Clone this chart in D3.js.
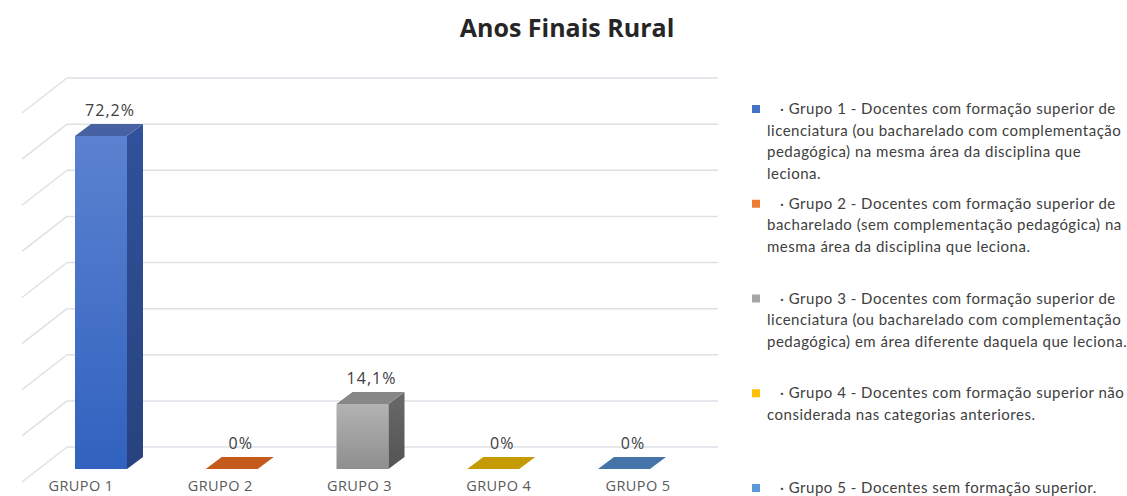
<!DOCTYPE html>
<html>
<head>
<meta charset="utf-8">
<script src="https://cdn.jsdelivr.net/npm/d3@7"></script>
<style>
body{margin:0;background:#fff;}
svg text{font-family:"Open Sans",sans-serif;}
</style>
</head>
<body>
<div id="chart"></div>
<script>
var categories=["GRUPO 1","GRUPO 2","GRUPO 3","GRUPO 4","GRUPO 5"];
var values=[0.722,0,0.141,0,0];
var valueLabels=["72,2%","0%","14,1%","0%","0%"];
var gridTicks=[0,0.1,0.2,0.3,0.4,0.5,0.6,0.7,0.8];
var legendColors=["#4472c4","#ed7d31","#a5a5a5","#ffc000","#5b9bd5"];
var legendLines=[
	["\u00b7 Grupo 1 - Docentes com formação superior de","licenciatura (ou bacharelado com complementação","pedagógica) na mesma área da disciplina que","leciona."],
	["\u00b7 Grupo 2 - Docentes com formação superior de","bacharelado (sem complementação pedagógica) na","mesma área da disciplina que leciona."],
	["\u00b7 Grupo 3 - Docentes com formação superior de","licenciatura (ou bacharelado com complementação","pedagógica) em área diferente daquela que leciona."],
	["\u00b7 Grupo 4 - Docentes com formação superior não","considerada nas categorias anteriores."],
	["\u00b7 Grupo 5 - Docentes sem formação superior."]
];
// front / front-dark / side / top
var barColors=[
	["#5b82d0","#3162bf","#2b4a8c","#4662a3"],
	["#c55a1d","#c55a1d","#a04a17","#c55a1d"],
	["#b3b3b3","#8e8e8e","#5e5e5e","#878787"],
	["#c59b05","#c59b05","#a0800a","#c59b05"],
	["#4574a8","#4574a8","#365d89","#4574a8"]
];

var width=1127,height=496;
var svg=d3.select("#chart").append("svg").attr("width",width).attr("height",height);

var wallLeft=67,wallRight=718;
var depthX=-45,depthY=35;   // perspective of the floor lines
var barDx=16,barDy=-12;     // bar depth
var barW=52;

var yWall=d3.scaleLinear().domain([0,0.8]).range([447,78]);
var yBar=d3.scaleLinear().domain([0,0.8]).range([469,100]);
var xBar=d3.scalePoint().domain(categories).range([101,624]);
var xLab=d3.scalePoint().domain(categories).range([81,638]);

svg.append("text")
	.attr("x",567).attr("y",37)
	.attr("text-anchor","middle")
	.style("font-size","25px").style("font-weight","bold").style("fill","#262626")
	.text("Anos Finais Rural");

var grid=svg.append("g").attr("class","grid");
grid.selectAll("line.h").data(gridTicks).enter().append("line")
	.attr("class","h")
	.attr("x1",wallLeft).attr("x2",wallRight)
	.attr("y1",function(d){return yWall(d);}).attr("y2",function(d){return yWall(d);})
	.style("stroke","#dde1e6").style("stroke-width",1.5);
grid.selectAll("line.d").data(gridTicks).enter().append("line")
	.attr("class","d")
	.attr("x1",wallLeft).attr("x2",wallLeft+depthX)
	.attr("y1",function(d){return yWall(d);}).attr("y2",function(d){return yWall(d)+depthY;})
	.style("stroke","#dde1e6").style("stroke-width",1.5);

var defs=svg.append("defs");
barColors.forEach(function(c,i){
	var g=defs.append("linearGradient").attr("id","front"+i).attr("x1",0).attr("y1",0).attr("x2",0).attr("y2",1);
	g.append("stop").attr("offset","0%").attr("stop-color",c[0]);
	g.append("stop").attr("offset","100%").attr("stop-color",c[1]);
	var s=defs.append("linearGradient").attr("id","side"+i).attr("x1",0).attr("y1",0).attr("x2",0).attr("y2",1);
	s.append("stop").attr("offset","0%").attr("stop-color",d3.color(c[2]).brighter(0.3));
	s.append("stop").attr("offset","100%").attr("stop-color",d3.color(c[2]).darker(0.3));
});

var bars=svg.selectAll("g.bar").data(values).enter().append("g").attr("class","bar");
bars.each(function(v,i){
	var g=d3.select(this);
	var cx=xBar(categories[i]);
	var x0=cx-barW/2,x1=cx+barW/2;
	var yt=yBar(v),yb=yBar(0);
	if(v>0){
		g.append("rect").attr("x",x0).attr("y",yt).attr("width",barW).attr("height",yb-yt)
			.attr("fill","url(#front"+i+")");
		g.append("path")
			.attr("d","M"+x1+","+yt+"L"+(x1+barDx)+","+(yt+barDy)+"L"+(x1+barDx)+","+(yb+barDy)+"L"+x1+","+yb+"Z")
			.attr("fill","url(#side"+i+")");
	}
	g.append("path")
		.attr("d","M"+x0+","+yt+"L"+x1+","+yt+"L"+(x1+barDx)+","+(yt+barDy)+"L"+(x0+barDx)+","+(yt+barDy)+"Z")
		.attr("fill",barColors[i][3]);
	g.append("text")
		.attr("x",cx+barDx/2+1).attr("y",yt+barDy-8)
		.attr("text-anchor","middle")
		.style("font-size","16px").style("letter-spacing","1px").style("fill","#404040")
		.text(valueLabels[i]);
});

svg.append("g").attr("class","xlabels")
	.selectAll("text").data(categories).enter().append("text")
	.attr("x",function(d){return xLab(d);}).attr("y",491)
	.attr("text-anchor","middle")
	.style("font-size","14.5px").style("letter-spacing","0.4px").style("fill","#595959")
	.text(function(d){return d;});

var yLeg=d3.scalePoint().domain(d3.range(legendLines.length)).range([109,488]);
var lineH=21.5;
var legend=svg.append("g").attr("class","legend")
	.selectAll("g").data(legendLines).enter().append("g")
	.attr("transform",function(d,i){return "translate(0,"+yLeg(i)+")";});
legend.append("rect")
	.attr("x",752).attr("y",-4).attr("width",8).attr("height",8)
	.attr("fill",function(d,i){return legendColors[i];});
legend.append("text")
	.style("font-family","Lato,sans-serif").style("font-size","15px").style("letter-spacing","0.5px").style("fill","#404040")
	.selectAll("tspan").data(function(d){return d;}).enter().append("tspan")
	.attr("x",function(d,j){return j==0?780:767;})
	.attr("y",function(d,j){return j*lineH+5;})
	.text(function(d){return d;});
</script>
</body>
</html>
